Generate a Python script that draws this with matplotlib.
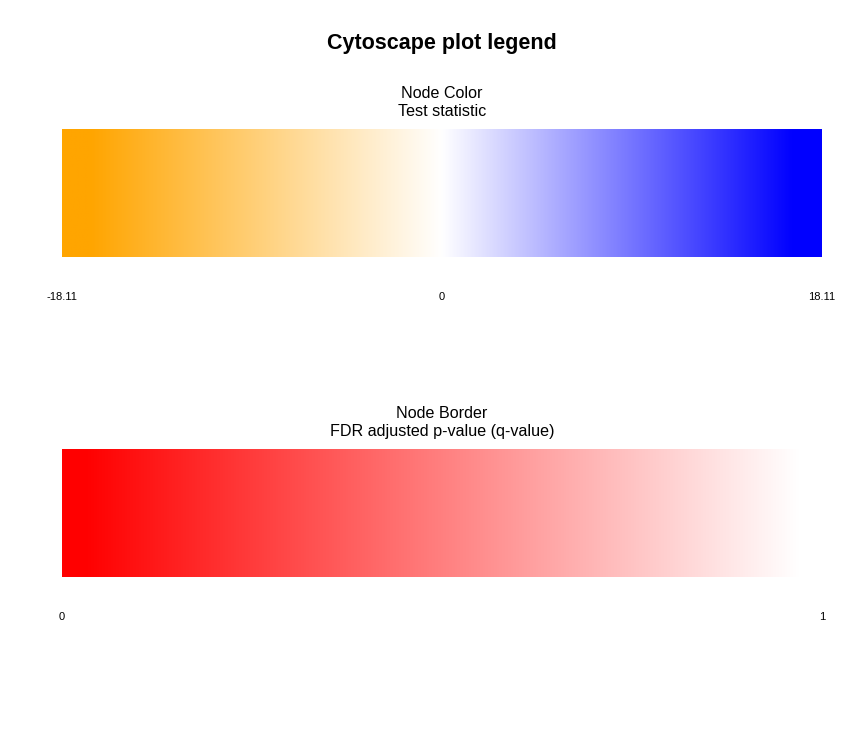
import numpy as np
import matplotlib
matplotlib.use("Agg")
import matplotlib.pyplot as plt
from matplotlib.colors import LinearSegmentedColormap

plt.rcParams['font.family'] = ['Liberation Sans', 'DejaVu Sans']

# colour legend data
color_title = "Node Color\nTest statistic"
color_ticks = [-18.11, 0, 18.11]
color_tick_labels = ["-18.11", "0", "18.11"]
color_stops = [0.0, 0.037, 0.5, 0.963, 1.0]
color_cols = ["orange", "orange", "white", "blue", "blue"]

border_title = "Node Border\nFDR adjusted p-value (q-value)"
border_ticks = [0, 1]
border_tick_labels = ["0", "1"]
border_stops = [0.0, 0.03, 0.97, 1.0]
border_cols = ["red", "red", "white", "white"]

W, H = 865, 747
fig = plt.figure(figsize=(W / 100, H / 100), dpi=100)
fig.text(442 / W, 1 - 43 / H, "Cytoscape plot legend", ha="center", va="center",
         fontsize=15.5, fontweight="bold")

def draw_bar(top_px, title, ticks, labels, stops, cols):
    ax = fig.add_axes([62 / W, 1 - (top_px + 128) / H, 760 / W, 128 / H])
    cmap = LinearSegmentedColormap.from_list("c", list(zip(stops, cols)), N=512)
    grad = np.linspace(0, 1, 512).reshape(1, -1)
    ax.imshow(grad, aspect="auto", cmap=cmap, extent=[ticks[0], ticks[-1], 0, 1],
              interpolation="bilinear")
    ax.set_xlim(ticks[0], ticks[-1])
    ax.set_ylim(0, 1)
    ax.axis("off")
    ax.set_title(title, fontsize=11.6, pad=9, linespacing=1.3)
    for t, lab in zip(ticks, labels):
        ax.text(t, -0.31, lab, ha="center", va="center", fontsize=8,
                transform=ax.get_xaxis_transform())

draw_bar(129, color_title, color_ticks, color_tick_labels, color_stops, color_cols)
draw_bar(449, border_title, border_ticks, border_tick_labels, border_stops, border_cols)

fig.savefig("out.png", dpi=100, facecolor="white")
